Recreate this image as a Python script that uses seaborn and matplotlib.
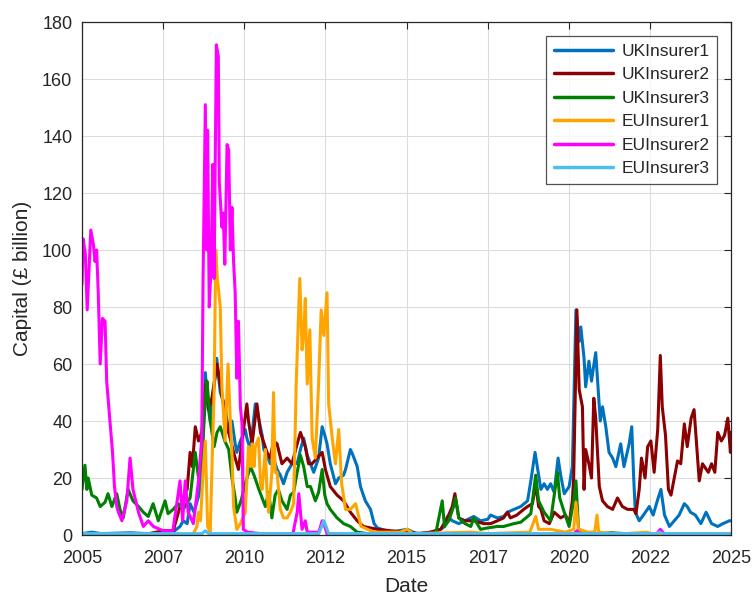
import numpy as np
import pandas as pd
import matplotlib
matplotlib.use("Agg")
import matplotlib.pyplot as plt
import seaborn as sns

# Values (decimal year, £ billion)
uk1_years = [2005.00, 2005.30, 2005.60, 2006.50, 2007.00, 2007.80, 2008.02, 2008.12, 2008.24, 2008.33,
             2008.45, 2008.60, 2008.69, 2008.80, 2008.87, 2008.95, 2009.07, 2009.15, 2009.26, 2009.41,
             2009.52, 2009.62, 2009.72, 2009.77, 2009.88, 2010.03, 2010.08, 2010.19, 2010.34, 2010.39,
             2010.44, 2010.55, 2010.60, 2010.70, 2010.80, 2010.90, 2011.01, 2011.11, 2011.21, 2011.32,
             2011.42, 2011.52, 2011.63, 2011.73, 2011.83, 2011.94, 2012.04, 2012.14, 2012.29, 2012.40,
             2012.48, 2012.55, 2012.65, 2012.81, 2012.91, 2013.06, 2013.12, 2013.27, 2013.35, 2013.48,
             2013.58, 2013.73, 2013.89, 2014.00, 2014.10, 2014.51, 2015.02, 2015.30, 2015.74, 2016.05,
             2016.17, 2016.26, 2016.41, 2016.61, 2016.80, 2017.07, 2017.28, 2017.50, 2017.59, 2017.80,
             2017.99, 2018.11, 2018.31, 2018.52, 2018.73, 2018.83, 2018.96, 2019.03, 2019.14, 2019.24,
             2019.34, 2019.44, 2019.55, 2019.67, 2019.75, 2019.86, 2020.01, 2020.11, 2020.22, 2020.32,
             2020.37, 2020.47, 2020.52, 2020.62, 2020.70, 2020.75, 2020.83, 2020.90, 2020.97, 2021.04,
             2021.14, 2021.24, 2021.35, 2021.45, 2021.60, 2021.70, 2021.86, 2021.94, 2022.00, 2022.05,
             2022.17, 2022.30, 2022.48, 2022.60, 2022.74, 2022.84, 2022.95, 2023.10, 2023.25, 2023.40,
             2023.56, 2023.65, 2023.75, 2023.90, 2024.07, 2024.23, 2024.40, 2024.59, 2024.75, 2024.95,
             2025.00]
uk1_vals = [0.5, 1.0, 0.5, 0.8, 0.5, 1.0, 3, 5, 4, 11,
            8, 14, 22, 57, 46, 40, 52, 62, 50, 45,
            36, 40, 32, 29, 33, 37, 34, 30, 46, 44,
            41, 35, 30, 28, 25, 27, 23, 21, 18, 22,
            24, 26, 25, 30, 34, 28, 25, 22, 27, 38,
            35, 32, 25, 18, 20, 21, 23, 30, 28, 24,
            17, 12, 9, 4, 2.5, 1, 2, 0.5, 1, 2,
            3, 6.5, 5, 4, 5, 6.5, 5, 5.5, 7, 6,
            6.5, 8, 9, 10, 12, 19, 29, 24, 16, 18,
            16, 18, 15, 27, 21, 14.5, 17, 24, 79, 68,
            73, 62, 52, 61, 54, 58, 64, 52, 40, 45,
            38, 29, 27, 24, 32, 24, 32, 38, 20, 8,
            5, 7, 10, 7, 12.5, 16, 7, 3, 5, 7,
            11, 10, 8, 7, 4, 8, 4, 3, 4, 5,
            5]

uk2_years = [2005.00, 2006.00, 2007.00, 2007.50, 2007.81, 2008.02, 2008.18, 2008.24, 2008.33, 2008.40,
             2008.49, 2008.59, 2008.69, 2008.83, 2008.90, 2009.00, 2009.16, 2009.31, 2009.41, 2009.52,
             2009.67, 2009.82, 2009.93, 2010.08, 2010.13, 2010.24, 2010.39, 2010.50, 2010.70, 2010.80,
             2010.90, 2011.01, 2011.16, 2011.32, 2011.47, 2011.63, 2011.73, 2011.88, 2011.98, 2012.09,
             2012.24, 2012.40, 2012.50, 2012.65, 2012.86, 2013.06, 2013.27, 2013.48, 2013.67, 2014.10,
             2014.51, 2015.00, 2015.43, 2015.74, 2016.05, 2016.26, 2016.41, 2016.49, 2016.61, 2016.80,
             2017.07, 2017.38, 2017.59, 2017.80, 2017.99, 2018.11, 2018.20, 2018.40, 2018.61, 2018.73,
             2018.88, 2018.98, 2019.07, 2019.14, 2019.24, 2019.40, 2019.55, 2019.75, 2019.90, 2020.01,
             2020.11, 2020.15, 2020.25, 2020.32, 2020.42, 2020.47, 2020.52, 2020.62, 2020.70, 2020.77,
             2020.83, 2020.94, 2021.04, 2021.19, 2021.35, 2021.50, 2021.65, 2021.81, 2022.00, 2022.07,
             2022.17, 2022.24, 2022.35, 2022.43, 2022.53, 2022.63, 2022.74, 2022.82, 2022.88, 2022.98,
             2023.07, 2023.15, 2023.25, 2023.35, 2023.45, 2023.56, 2023.65, 2023.77, 2023.86, 2023.95,
             2024.02, 2024.12, 2024.30, 2024.40, 2024.50, 2024.59, 2024.70, 2024.80, 2024.90, 2024.98,
             2025.00]
uk2_vals = [0.3, 0.3, 0.3, 1.5, 1.5, 10, 15, 16, 29, 24,
            38, 33, 36, 54, 44, 48, 60, 49, 43, 36,
            29, 23, 33, 46, 40, 32, 46, 36, 29, 27,
            33, 32, 25, 27, 25, 32, 36, 31, 25, 25,
            27, 29, 23, 17, 14, 12, 8, 5, 3, 2,
            1.5, 1, 0.5, 1, 2, 6, 10, 14.5, 6, 5,
            5, 4, 4, 5, 6, 8, 6, 7, 9, 10,
            11, 18, 10, 9, 5, 4, 8, 6, 7, 4,
            12, 20, 79, 51, 45, 16, 30, 25, 20, 48,
            41, 17, 12, 10, 9, 13, 10, 9, 9, 7.5,
            16, 27, 20, 31, 33, 22, 37, 63, 45, 35,
            16, 14, 20, 26, 25, 39, 31, 41, 44, 30,
            19, 25, 22, 25, 22, 36, 33, 35, 41, 29,
            36]

uk3_years = [2005.00, 2005.09, 2005.15, 2005.19, 2005.30, 2005.45, 2005.56, 2005.71, 2005.80, 2005.92,
             2006.07, 2006.17, 2006.27, 2006.42, 2006.57, 2006.74, 2006.89, 2007.04, 2007.19, 2007.35,
             2007.56, 2007.65, 2007.81, 2007.96, 2008.12, 2008.33, 2008.49, 2008.59, 2008.69, 2008.80,
             2008.85, 2008.95, 2009.07, 2009.16, 2009.26, 2009.40, 2009.52, 2009.62, 2009.72, 2009.77,
             2009.90, 2010.03, 2010.19, 2010.30, 2010.45, 2010.65, 2010.75, 2010.85, 2010.95, 2011.05,
             2011.16, 2011.32, 2011.42, 2011.52, 2011.63, 2011.73, 2011.83, 2011.94, 2012.04, 2012.19,
             2012.29, 2012.40, 2012.48, 2012.55, 2012.65, 2012.86, 2013.06, 2013.27, 2013.48, 2013.80,
             2015.00, 2015.90, 2016.10, 2016.17, 2016.30, 2016.45, 2016.51, 2016.61, 2016.80, 2016.98,
             2017.07, 2017.28, 2017.50, 2017.80, 2017.99, 2018.31, 2018.52, 2018.73, 2018.83, 2018.98,
             2019.07, 2019.24, 2019.44, 2019.65, 2019.72, 2019.86, 2020.01, 2020.15, 2020.22, 2020.30,
             2020.60, 2021.00, 2021.30, 2022.00, 2025.00]
uk3_vals = [16, 24.5, 16, 20, 14, 13, 10, 11.5, 14.5, 10,
            14.5, 9, 6, 16, 12, 10, 8, 6.5, 11, 5,
            12, 7.5, 9, 11, 9, 13, 29, 20, 25, 48,
            54, 40, 31, 36, 38, 33, 30, 20, 13, 8,
            12, 18, 24, 21, 16, 10, 15, 6, 14, 16,
            12, 9, 14, 15, 22, 28, 24, 17, 17, 12,
            15, 23, 14, 11, 9, 6, 4, 3, 1, 0.5,
            0.3, 0.5, 12, 3, 5, 10, 13, 6, 4, 3,
            6, 2, 2.5, 3, 3, 4, 4.5, 6.5, 7.5, 21,
            12, 8, 5, 22, 13, 8, 3, 12, 19, 2,
            0.5, 0.5, 0.8, 0.3, 0.3]

eu1_years = [2005.00, 2008.40, 2008.43, 2008.54, 2008.59, 2008.65, 2008.73, 2008.80, 2008.87, 2008.95,
             2009.00, 2009.07, 2009.12, 2009.17, 2009.26, 2009.31, 2009.41, 2009.50, 2009.57, 2009.62,
             2009.67, 2009.77, 2009.88, 2010.03, 2010.13, 2010.19, 2010.24, 2010.30, 2010.34, 2010.44,
             2010.50, 2010.55, 2010.65, 2010.70, 2010.75, 2010.85, 2010.90, 2010.95, 2011.01, 2011.11,
             2011.21, 2011.32, 2011.42, 2011.52, 2011.60, 2011.71, 2011.78, 2011.83, 2011.88, 2011.94,
             2012.02, 2012.09, 2012.19, 2012.29, 2012.37, 2012.45, 2012.55, 2012.60, 2012.71, 2012.81,
             2012.91, 2013.00, 2013.12, 2013.27, 2013.43, 2013.60, 2014.00, 2014.80, 2015.02, 2015.20,
             2016.98, 2017.50, 2018.80, 2018.98, 2019.07, 2019.44, 2019.90, 2020.15, 2020.22, 2020.30,
             2020.60, 2020.80, 2020.87, 2020.92, 2021.50, 2022.40, 2022.60, 2025.00]
eu1_vals = [0, 0, 0.5, 3, 8, 5, 22, 33, 3, 1,
            22, 50, 100, 90, 80, 52, 33, 60, 40, 29,
            10, 2, 4, 8, 31, 24, 32, 24, 31, 34,
            18, 16, 30, 15, 8, 22, 50, 22, 22, 9,
            6, 6, 8, 11, 53, 90, 65, 70, 83, 53,
            72, 34, 27, 53, 79, 70, 85, 46, 34, 25,
            37, 18, 9, 9, 11, 3, 1, 1, 2, 0.5,
            1, 0.5, 1, 6.5, 2, 2, 1, 2, 11.5, 2,
            1, 1, 7, 1, 0.3, 1, 0.3, 0.3]

eu2_years = [2005.00, 2005.03, 2005.10, 2005.16, 2005.27, 2005.35, 2005.40, 2005.45, 2005.50, 2005.56,
             2005.63, 2005.71, 2005.76, 2005.86, 2005.94, 2006.00, 2006.07, 2006.12, 2006.23, 2006.38,
             2006.48, 2006.57, 2006.74, 2006.89, 2007.04, 2007.20, 2007.50, 2007.80, 2008.02, 2008.10,
             2008.18, 2008.27, 2008.43, 2008.59, 2008.69, 2008.73, 2008.80, 2008.84, 2008.87, 2008.92,
             2008.98, 2009.03, 2009.07, 2009.14, 2009.20, 2009.23, 2009.31, 2009.35, 2009.40, 2009.47,
             2009.52, 2009.57, 2009.62, 2009.67, 2009.72, 2009.77, 2009.82, 2009.88, 2009.93, 2009.97,
             2010.10, 2010.50, 2011.50, 2011.63, 2011.68, 2011.78, 2011.88, 2011.94, 2012.30, 2012.40,
             2012.45, 2012.55, 2013.00, 2020.15, 2020.25, 2020.35, 2022.70, 2022.82, 2022.95, 2025.00]
eu2_vals = [88, 104, 99, 79, 107, 102, 96, 100, 85, 60,
            76, 75, 54, 40, 29, 17, 10, 8, 5, 12,
            27, 16, 8, 3, 5, 3, 1.5, 1.5, 19, 5,
            19, 8, 4, 19, 34, 90, 151, 100, 142, 80,
            95, 130, 90, 172, 168, 124, 108, 113, 95, 137,
            135, 100, 115, 96, 85, 55, 75, 45, 39, 2,
            1, 0.5, 0.5, 8, 14.5, 2, 5, 1, 1, 5,
            4, 0.5, 0.3, 0.3, 1.5, 0.3, 0.3, 2, 0.3, 0.3]

eu3_years = [2005.00, 2008.70, 2008.80, 2008.90, 2012.30, 2012.35, 2012.45, 2012.52, 2012.60,
             2022.70, 2022.80, 2022.90, 2025.00]
eu3_vals = [0.5, 0.5, 1.5, 0.5, 0.5, 2, 5, 3, 0.5,
            0.5, 1, 0.5, 0.5]

names = ["UKInsurer1", "UKInsurer2", "UKInsurer3", "EUInsurer1", "EUInsurer2", "EUInsurer3"]
colors = ["#0072BD", "#8B0000", "#008000", "#FFA500", "#FF00FF", "#4DBEEE"]
tick_years = [2005, 2007, 2010, 2012, 2015, 2017, 2020, 2022, 2025]
tick_pos = [2005.0, 2007.5, 2010.0, 2012.5, 2015.0, 2017.5, 2020.0, 2022.5, 2025.0]


def to_dates(yrs):
    yrs = np.asarray(yrs, dtype=float)
    return pd.Timestamp("2005-01-01") + pd.to_timedelta((yrs - 2005) * 365.25, unit="D")


series = [(uk1_years, uk1_vals), (uk2_years, uk2_vals), (uk3_years, uk3_vals),
          (eu1_years, eu1_vals), (eu2_years, eu2_vals), (eu3_years, eu3_vals)]
frames = []
for name, (yrs, vals) in zip(names, series):
    frames.append(pd.DataFrame({"Date": to_dates(yrs), "Capital": vals, "Insurer": name}))
df = pd.concat(frames, ignore_index=True)

sns.set_style("white")
plt.rcParams["font.family"] = ["Liberation Sans", "DejaVu Sans"]

fig = plt.figure(figsize=(7.56, 5.95), dpi=100)
ax = fig.add_axes([0.1085, 0.1008, 0.8585, 0.8622])

sns.lineplot(data=df, x="Date", y="Capital", hue="Insurer", palette=colors,
             estimator=None, sort=False, linewidth=2.2, ax=ax)

ax.set_xlim(to_dates([2005.0])[0], to_dates([2025.0])[0])
ax.set_ylim(0, 180)
ax.set_xticks(to_dates(tick_pos))
ax.set_xticklabels([str(y) for y in tick_years])
ax.set_yticks(np.arange(0, 181, 20))

dark = "#262626"
ax.grid(True, color="#dcdcdc", linewidth=0.8)
ax.set_axisbelow(True)
for sp in ax.spines.values():
    sp.set_visible(True)
    sp.set_color(dark)
    sp.set_linewidth(0.9)
ax.tick_params(direction="in", length=5, width=0.8, colors=dark, labelsize=13,
               top=True, right=True)
ax.tick_params(axis="x", pad=11)
ax.tick_params(axis="y", pad=7)
ax.set_xlabel("Date", fontsize=15, color=dark, labelpad=7)
ax.set_ylabel("Capital (£ billion)", fontsize=15, color=dark, labelpad=7)

leg = ax.legend(loc="upper right", fontsize=12.5, frameon=True, fancybox=False,
                handlelength=3.4, labelspacing=0.48, borderaxespad=0.8, borderpad=0.45,
                handletextpad=0.5)
leg.get_frame().set_edgecolor(dark)
leg.get_frame().set_linewidth(0.9)
for line in leg.get_lines():
    line.set_linewidth(2.5)

fig.savefig("out.png", dpi=100)
